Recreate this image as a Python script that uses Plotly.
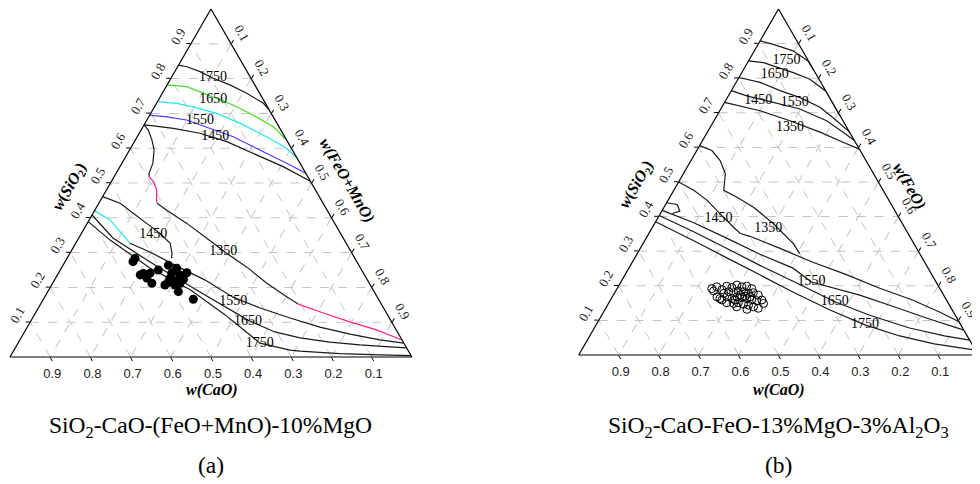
import plotly.graph_objects as go

# ---------------- data (w(SiO2), w(FeO[+MnO])) pairs; w(CaO) = 1 - others ----------------
TICKS = [0.1, 0.2, 0.3, 0.4, 0.5, 0.6, 0.7, 0.8, 0.9]
TICK_TEXT = ["0.1", "0.2", "0.3", "0.4", "0.5", "0.6", "0.7", "0.8", "0.9"]

# ---- diagram (a): SiO2-CaO-(FeO+MnO)-10%MgO ----
A_1750_UP = [(0.839, 0.0), (0.834, 0.023), (0.820, 0.063), (0.801, 0.105), (0.782, 0.156),
             (0.758, 0.210), (0.729, 0.266), (0.712, 0.288)]
A_1650_UP = [(0.782, 0.0), (0.777, 0.051), (0.762, 0.092), (0.724, 0.193), (0.695, 0.258),
             (0.662, 0.324), (0.623, 0.377)]
A_1550_UP = [(0.734, 0.0), (0.729, 0.050), (0.719, 0.096), (0.700, 0.164), (0.672, 0.236),
             (0.633, 0.322), (0.600, 0.388), (0.571, 0.429)]
A_1450_UP = [(0.695, 0.0), (0.690, 0.045), (0.681, 0.099), (0.633, 0.239), (0.595, 0.324),
             (0.557, 0.410), (0.528, 0.472)]
A_1350_P1 = [(0.505, 0.495), (0.547, 0.406), (0.585, 0.313), (0.619, 0.230), (0.643, 0.151),
             (0.657, 0.078), (0.664, 0.025), (0.667, 0.0), (0.652, 0.018), (0.624, 0.041),
             (0.595, 0.061), (0.557, 0.077), (0.528, 0.082), (0.518, 0.087)]
A_1350_P2 = [(0.518, 0.087), (0.504, 0.105), (0.480, 0.125), (0.451, 0.139), (0.442, 0.145)]
A_1350_P3 = [(0.442, 0.145), (0.422, 0.179), (0.384, 0.248), (0.341, 0.319), (0.298, 0.390),
             (0.259, 0.459), (0.212, 0.533), (0.173, 0.602), (0.152, 0.641)]
A_1350_P4 = [(0.152, 0.641), (0.130, 0.706), (0.101, 0.795), (0.078, 0.873), (0.049, 0.951)]
A_1450_LO = [(0.461, 0.0), (0.442, 0.053), (0.413, 0.100), (0.384, 0.148), (0.355, 0.196),
             (0.327, 0.235), (0.298, 0.254), (0.284, 0.260)]
A_1550_LO_C = [(0.420, 0.0), (0.394, 0.052), (0.355, 0.100), (0.327, 0.135)]
A_1550_LO = [(0.327, 0.135), (0.302, 0.197), (0.264, 0.278), (0.221, 0.375), (0.172, 0.469),
             (0.141, 0.552), (0.112, 0.641), (0.086, 0.728), (0.066, 0.813), (0.049, 0.896),
             (0.040, 0.960)]
A_1650_LO = [(0.408, 0.0), (0.342, 0.085), (0.273, 0.212), (0.187, 0.379), (0.106, 0.539),
             (0.072, 0.623), (0.055, 0.694), (0.043, 0.774), (0.035, 0.853), (0.029, 0.931),
             (0.026, 0.974)]
A_1750_LO = [(0.389, 0.0), (0.336, 0.081), (0.256, 0.220), (0.193, 0.352), (0.121, 0.475),
             (0.040, 0.602), (0.020, 0.687), (0.017, 0.713), (0.010, 0.816), (0.006, 0.918),
             (0.004, 0.996)]
A_LABELS = ["1750", "1650", "1550", "1450", "1450", "1350", "1550", "1650", "1750"]
A_LABEL_POS = [(0.802, 0.104), (0.740, 0.136), (0.681, 0.132), (0.633, 0.194), (0.351, 0.181),
               (0.303, 0.379), (0.159, 0.476), (0.101, 0.542), (0.039, 0.602)]
A_SAMPLES = [(0.284, 0.169), (0.274, 0.169), (0.240, 0.212), (0.236, 0.206), (0.241, 0.228),
             (0.212, 0.247), (0.250, 0.244), (0.264, 0.262), (0.255, 0.287), (0.242, 0.319),
             (0.226, 0.285), (0.216, 0.298), (0.221, 0.308), (0.223, 0.320), (0.212, 0.317),
             (0.214, 0.287), (0.188, 0.325), (0.166, 0.373), (0.236, 0.305), (0.241, 0.282),
             (0.207, 0.307), (0.207, 0.282), (0.227, 0.227)]

# ---- diagram (b): SiO2-CaO-FeO-13%MgO-3%Al2O3 ----
B_1750_UP = [(0.908, 0.0), (0.898, 0.038), (0.879, 0.097), (0.850, 0.149), (0.822, 0.178)]
B_1650_UP = [(0.850, 0.0), (0.845, 0.040), (0.816, 0.129), (0.797, 0.180), (0.764, 0.238),
             (0.692, 0.308)]
B_1550_UP = [(0.802, 0.0), (0.788, 0.060), (0.764, 0.122), (0.744, 0.182), (0.716, 0.246),
             (0.677, 0.307), (0.645, 0.355)]
B_1450_UP = [(0.764, 0.0), (0.749, 0.046), (0.730, 0.122), (0.711, 0.198), (0.677, 0.282),
             (0.644, 0.340), (0.620, 0.380)]
B_1350_UP = [(0.730, 0.0), (0.706, 0.101), (0.677, 0.190), (0.644, 0.282), (0.615, 0.354),
             (0.595, 0.405)]
B_1350_LO = [(0.605, 0.0), (0.591, 0.038), (0.562, 0.073), (0.524, 0.105), (0.476, 0.125),
             (0.456, 0.168), (0.427, 0.224), (0.380, 0.297), (0.322, 0.376), (0.293, 0.407)]
B_1450_LO = [(0.500, 0.0), (0.476, 0.050), (0.447, 0.098), (0.408, 0.150), (0.370, 0.202),
             (0.351, 0.229), (0.343, 0.257), (0.308, 0.350), (0.268, 0.452), (0.233, 0.552),
             (0.193, 0.657), (0.159, 0.756), (0.124, 0.841), (0.096, 0.904)]
B_HOOK = [(0.440, 0.0), (0.435, 0.029), (0.416, 0.045), (0.409, 0.030)]
B_1550_LO = [(0.418, 0.0), (0.383, 0.095), (0.337, 0.203), (0.291, 0.308), (0.251, 0.411),
             (0.211, 0.477), (0.173, 0.617), (0.141, 0.715), (0.107, 0.817), (0.072, 0.928)]
B_1650_LO = [(0.403, 0.0), (0.357, 0.108), (0.308, 0.217), (0.259, 0.324), (0.213, 0.430),
             (0.154, 0.564), (0.115, 0.671), (0.078, 0.789), (0.055, 0.888), (0.043, 0.957)]
B_1750_LO = [(0.385, 0.0), (0.331, 0.121), (0.280, 0.232), (0.231, 0.339), (0.182, 0.445),
             (0.130, 0.564), (0.087, 0.673), (0.055, 0.776), (0.032, 0.874), (0.014, 0.986)]
B_LABELS = ["1750", "1650", "1550", "1450", "1350", "1450", "1350", "1550", "1650", "1750"]
B_LABEL_POS = [(0.850, 0.095), (0.812, 0.085), (0.730, 0.176), (0.735, 0.082), (0.658, 0.200),
               (0.394, 0.153), (0.365, 0.292), (0.211, 0.477), (0.154, 0.564), (0.087, 0.673)]
B_SAMPLES = [(0.192, 0.237), (0.197, 0.247), (0.189, 0.264), (0.199, 0.271), (0.195, 0.286),
             (0.202, 0.295), (0.197, 0.310), (0.199, 0.321), (0.192, 0.337), (0.178, 0.274),
             (0.183, 0.284), (0.180, 0.298), (0.185, 0.307), (0.183, 0.321), (0.178, 0.336),
             (0.180, 0.347), (0.173, 0.363), (0.163, 0.272), (0.168, 0.287), (0.163, 0.302),
             (0.168, 0.312), (0.166, 0.325), (0.163, 0.339), (0.160, 0.353), (0.157, 0.367),
             (0.159, 0.379), (0.149, 0.388), (0.149, 0.313), (0.151, 0.324), (0.147, 0.339),
             (0.144, 0.353), (0.139, 0.368), (0.135, 0.382), (0.132, 0.355), (0.139, 0.326),
             (0.151, 0.295), (0.159, 0.279), (0.168, 0.262), (0.185, 0.245), (0.173, 0.318),
             (0.170, 0.332), (0.168, 0.345), (0.159, 0.312)]

CAPTION_A = "SiO<sub>2</sub>-CaO-(FeO+MnO)-10%MgO"
CAPTION_B = "SiO<sub>2</sub>-CaO-FeO-13%MgO-3%Al<sub>2</sub>O<sub>3</sub>"

SERIF = "Liberation Serif, Times New Roman, serif"
NARROW = "Liberation Sans Narrow, Arial Narrow, Liberation Sans, Arial, sans-serif"


def abc(pts):
    a = [p[0] for p in pts]
    c = [p[1] for p in pts]
    b = [max(0.0, 1 - p[0] - p[1]) for p in pts]
    return a, b, c


fig = go.Figure()


def add_line(pts, color, subplot):
    a, b, c = abc(pts)
    fig.add_trace(go.Scatterternary(a=a, b=b, c=c, mode="lines", subplot=subplot,
                                    line=dict(color=color, width=1.2), hoverinfo="skip",
                                    showlegend=False))


def add_labels(texts, pos, subplot):
    a, b, c = abc(pos)
    fig.add_trace(go.Scatterternary(a=a, b=b, c=c, mode="text", text=texts, subplot=subplot,
                                    textfont=dict(family=SERIF, size=14, color="black"),
                                    hoverinfo="skip", showlegend=False))


BLACK = "#1a1a1a"
GREEN = "#44dd22"
CYAN = "#22e6ee"
VIOLET = "#5533ff"
PINK = "#ff2090"

for pts, col in [(A_1750_UP, BLACK), (A_1650_UP, GREEN), (A_1550_UP, CYAN), (A_1450_UP, VIOLET),
                 (A_1350_P1, BLACK), (A_1350_P2, PINK), (A_1350_P3, BLACK), (A_1350_P4, PINK),
                 (A_1450_LO, BLACK), (A_1550_LO_C, CYAN), (A_1550_LO, BLACK),
                 (A_1650_LO, BLACK), (A_1750_LO, BLACK)]:
    add_line(pts, col, "ternary")

for pts in [B_1750_UP, B_1650_UP, B_1550_UP, B_1450_UP, B_1350_UP, B_1350_LO, B_1450_LO,
            B_HOOK, B_1550_LO, B_1650_LO, B_1750_LO]:
    add_line(pts, BLACK, "ternary2")

add_labels(A_LABELS, A_LABEL_POS, "ternary")
add_labels(B_LABELS, B_LABEL_POS, "ternary2")

a, b, c = abc(A_SAMPLES)
fig.add_trace(go.Scatterternary(a=a, b=b, c=c, mode="markers", subplot="ternary",
                                marker=dict(symbol="circle", size=9, color="black"),
                                hoverinfo="skip", showlegend=False))
a, b, c = abc(B_SAMPLES)
fig.add_trace(go.Scatterternary(a=a, b=b, c=c, mode="markers", subplot="ternary2",
                                marker=dict(symbol="circle-open", size=8, color="black",
                                            line=dict(width=1, color="black")),
                                hoverinfo="skip", showlegend=False))


def axis(angle, font):
    return dict(title=dict(text=""), tickmode="array", tickvals=TICKS, ticktext=TICK_TEXT,
                tickangle=angle, tickfont=dict(family=font, size=13, color="#222"),
                showline=True, linecolor="black", linewidth=1.2,
                showgrid=True, gridcolor="#c4c4c4", gridwidth=1, griddash="dash",
                ticks="outside", ticklen=4, tickcolor="black", min=0)


def tern(dx, dy):
    return dict(domain=dict(x=dx, y=dy), sum=1, bgcolor="white",
                aaxis=axis(-60, SERIF), baxis=axis(0, NARROW), caxis=axis(60, SERIF))


# the page body adds an 8 px margin, so paper positions are shifted by that amount
title_font = dict(family=SERIF, size=16, color="black")
cap_font = dict(family=SERIF, size=23.5, color="black")
annotations = [
    dict(x=0.0633, y=0.6302, text="<b><i>w</i>(<i>SiO</i><sub>2</sub>)</b>", textangle=-60, font=title_font),
    dict(x=0.3456, y=0.6446, text="<b><i>w(FeO+MnO)</i></b>", textangle=60, font=title_font),
    dict(x=0.2082, y=0.2108, text="<b><i>w(CaO)</i></b>", font=title_font),
    dict(x=0.6415, y=0.6343, text="<b><i>w</i>(<i>SiO</i><sub>2</sub>)</b>", textangle=-60, font=title_font),
    dict(x=0.9204, y=0.6308, text="<b><i>w(FeO)</i></b>", textangle=60, font=title_font),
    dict(x=0.7867, y=0.2108, text="<b><i>w(CaO)</i></b>", font=title_font),
    dict(x=0.2071, y=0.1343, text=CAPTION_A, font=cap_font),
    dict(x=0.7867, y=0.1343, text=CAPTION_B, font=cap_font),
    dict(x=0.2071, y=0.0558, text="(a)", font=cap_font),
    dict(x=0.7867, y=0.0558, text="(b)", font=cap_font),
]
for an in annotations:
    an.update(xref="paper", yref="paper", showarrow=False, xanchor="center", yanchor="middle")

fig.update_layout(
    width=980, height=484, margin=dict(l=0, r=0, t=0, b=0),
    paper_bgcolor="white", plot_bgcolor="white", showlegend=False,
    ternary=tern([0.0020, 0.4122], [0.2789, 0.9979]),
    ternary2=tern([0.5816, 0.9908], [0.2831, 0.9979]),
    annotations=annotations,
)

fig.write_html("out.html")
